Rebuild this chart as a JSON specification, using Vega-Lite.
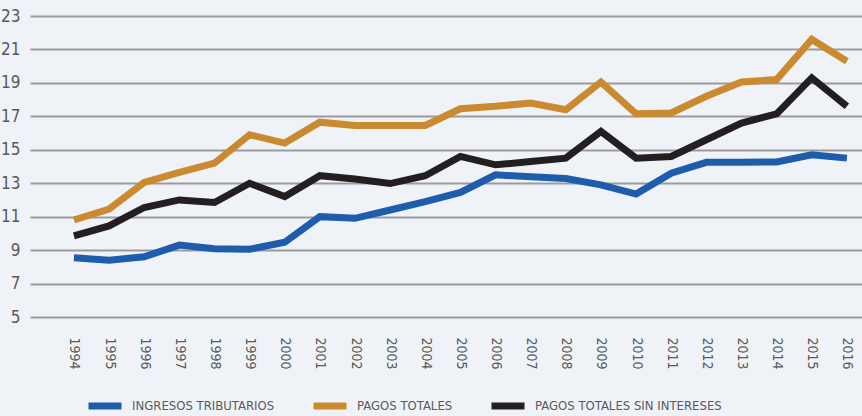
{
  "$schema": "https://vega.github.io/schema/vega-lite/v6.json",
  "width": 832,
  "height": 301,
  "autosize": {"type": "none"},
  "padding": {"left": 30, "top": 16, "right": 0, "bottom": 99},
  "background": "#eff3f8",
  "config": {
    "view": {"stroke": null},
    "font": "DejaVu Sans Condensed, Liberation Sans Narrow, Liberation Sans, sans-serif",
    "axis": {"labelFont": "DejaVu Sans Condensed, Liberation Sans Narrow, Liberation Sans, sans-serif", "labelColor": "#58595b"},
    "legend": {"labelFont": "DejaVu Sans Condensed, Liberation Sans Narrow, Liberation Sans, sans-serif", "labelColor": "#58595b"}
  },
  "datasets": {
    "d": [
      {"year": 1994, "s": "INGRESOS TRIBUTARIOS", "v": 8.55},
      {"year": 1995, "s": "INGRESOS TRIBUTARIOS", "v": 8.4},
      {"year": 1996, "s": "INGRESOS TRIBUTARIOS", "v": 8.6},
      {"year": 1997, "s": "INGRESOS TRIBUTARIOS", "v": 9.3},
      {"year": 1998, "s": "INGRESOS TRIBUTARIOS", "v": 9.08},
      {"year": 1999, "s": "INGRESOS TRIBUTARIOS", "v": 9.05},
      {"year": 2000, "s": "INGRESOS TRIBUTARIOS", "v": 9.47},
      {"year": 2001, "s": "INGRESOS TRIBUTARIOS", "v": 11.0},
      {"year": 2002, "s": "INGRESOS TRIBUTARIOS", "v": 10.9},
      {"year": 2003, "s": "INGRESOS TRIBUTARIOS", "v": 11.4},
      {"year": 2004, "s": "INGRESOS TRIBUTARIOS", "v": 11.9},
      {"year": 2005, "s": "INGRESOS TRIBUTARIOS", "v": 12.45},
      {"year": 2006, "s": "INGRESOS TRIBUTARIOS", "v": 13.5},
      {"year": 2007, "s": "INGRESOS TRIBUTARIOS", "v": 13.38},
      {"year": 2008, "s": "INGRESOS TRIBUTARIOS", "v": 13.28},
      {"year": 2009, "s": "INGRESOS TRIBUTARIOS", "v": 12.9},
      {"year": 2010, "s": "INGRESOS TRIBUTARIOS", "v": 12.35},
      {"year": 2011, "s": "INGRESOS TRIBUTARIOS", "v": 13.6},
      {"year": 2012, "s": "INGRESOS TRIBUTARIOS", "v": 14.25},
      {"year": 2013, "s": "INGRESOS TRIBUTARIOS", "v": 14.25},
      {"year": 2014, "s": "INGRESOS TRIBUTARIOS", "v": 14.27},
      {"year": 2015, "s": "INGRESOS TRIBUTARIOS", "v": 14.7},
      {"year": 2016, "s": "INGRESOS TRIBUTARIOS", "v": 14.5},
      {"year": 1994, "s": "PAGOS TOTALES", "v": 10.8},
      {"year": 1995, "s": "PAGOS TOTALES", "v": 11.45},
      {"year": 1996, "s": "PAGOS TOTALES", "v": 13.05},
      {"year": 1997, "s": "PAGOS TOTALES", "v": 13.65},
      {"year": 1998, "s": "PAGOS TOTALES", "v": 14.2},
      {"year": 1999, "s": "PAGOS TOTALES", "v": 15.9},
      {"year": 2000, "s": "PAGOS TOTALES", "v": 15.4},
      {"year": 2001, "s": "PAGOS TOTALES", "v": 16.65},
      {"year": 2002, "s": "PAGOS TOTALES", "v": 16.45},
      {"year": 2003, "s": "PAGOS TOTALES", "v": 16.45},
      {"year": 2004, "s": "PAGOS TOTALES", "v": 16.45},
      {"year": 2005, "s": "PAGOS TOTALES", "v": 17.45},
      {"year": 2006, "s": "PAGOS TOTALES", "v": 17.6},
      {"year": 2007, "s": "PAGOS TOTALES", "v": 17.8},
      {"year": 2008, "s": "PAGOS TOTALES", "v": 17.4},
      {"year": 2009, "s": "PAGOS TOTALES", "v": 19.05},
      {"year": 2010, "s": "PAGOS TOTALES", "v": 17.15},
      {"year": 2011, "s": "PAGOS TOTALES", "v": 17.2},
      {"year": 2012, "s": "PAGOS TOTALES", "v": 18.2},
      {"year": 2013, "s": "PAGOS TOTALES", "v": 19.05},
      {"year": 2014, "s": "PAGOS TOTALES", "v": 19.2},
      {"year": 2015, "s": "PAGOS TOTALES", "v": 21.6},
      {"year": 2016, "s": "PAGOS TOTALES", "v": 20.3},
      {"year": 1994, "s": "PAGOS TOTALES SIN INTERESES", "v": 9.85},
      {"year": 1995, "s": "PAGOS TOTALES SIN INTERESES", "v": 10.45},
      {"year": 1996, "s": "PAGOS TOTALES SIN INTERESES", "v": 11.55},
      {"year": 1997, "s": "PAGOS TOTALES SIN INTERESES", "v": 12.0},
      {"year": 1998, "s": "PAGOS TOTALES SIN INTERESES", "v": 11.85},
      {"year": 1999, "s": "PAGOS TOTALES SIN INTERESES", "v": 13.0},
      {"year": 2000, "s": "PAGOS TOTALES SIN INTERESES", "v": 12.2},
      {"year": 2001, "s": "PAGOS TOTALES SIN INTERESES", "v": 13.45},
      {"year": 2002, "s": "PAGOS TOTALES SIN INTERESES", "v": 13.25},
      {"year": 2003, "s": "PAGOS TOTALES SIN INTERESES", "v": 12.98},
      {"year": 2004, "s": "PAGOS TOTALES SIN INTERESES", "v": 13.45},
      {"year": 2005, "s": "PAGOS TOTALES SIN INTERESES", "v": 14.6},
      {"year": 2006, "s": "PAGOS TOTALES SIN INTERESES", "v": 14.1},
      {"year": 2007, "s": "PAGOS TOTALES SIN INTERESES", "v": 14.3},
      {"year": 2008, "s": "PAGOS TOTALES SIN INTERESES", "v": 14.5},
      {"year": 2009, "s": "PAGOS TOTALES SIN INTERESES", "v": 16.1},
      {"year": 2010, "s": "PAGOS TOTALES SIN INTERESES", "v": 14.5},
      {"year": 2011, "s": "PAGOS TOTALES SIN INTERESES", "v": 14.6},
      {"year": 2012, "s": "PAGOS TOTALES SIN INTERESES", "v": 15.6},
      {"year": 2013, "s": "PAGOS TOTALES SIN INTERESES", "v": 16.6},
      {"year": 2014, "s": "PAGOS TOTALES SIN INTERESES", "v": 17.15},
      {"year": 2015, "s": "PAGOS TOTALES SIN INTERESES", "v": 19.3},
      {"year": 2016, "s": "PAGOS TOTALES SIN INTERESES", "v": 17.6}
    ]
  },
  "data": {"name": "d"},
  "mark": {"type": "line", "strokeWidth": 7, "strokeJoin": "miter", "strokeCap": "butt"},
  "encoding": {
    "x": {
      "field": "year",
      "type": "quantitative",
      "scale": {"domain": [1992.75, 2016.43], "nice": false, "zero": false},
      "axis": {
        "title": null,
        "values": [1994,1995,1996,1997,1998,1999,2000,2001,2002,2003,2004,2005,2006,2007,2008,2009,2010,2011,2012,2013,2014,2015,2016],
        "format": "d",
        "labelAngle": 90,
        "labelAlign": "left",
        "labelBaseline": "middle",
        "labelPadding": 20,
        "labelFontSize": 14,
        "labelOverlap": false,
        "domain": false,
        "ticks": false,
        "grid": false
      }
    },
    "y": {
      "field": "v",
      "type": "quantitative",
      "scale": {"domain": [5, 23], "nice": false, "zero": false},
      "axis": {
        "title": null,
        "values": [5,7,9,11,13,15,17,19,21,23],
        "labelFontSize": 17,
        "labelPadding": 10,
        "domain": false,
        "ticks": false,
        "grid": true,
        "gridColor": "#9b9b9e",
        "gridWidth": 2.2,
        "gridOpacity": 1
      }
    },
    "color": {
      "field": "s",
      "type": "nominal",
      "sort": ["INGRESOS TRIBUTARIOS", "PAGOS TOTALES", "PAGOS TOTALES SIN INTERESES"],
      "scale": {
        "domain": ["INGRESOS TRIBUTARIOS", "PAGOS TOTALES", "PAGOS TOTALES SIN INTERESES"],
        "range": ["#1d5dab", "#cc8a30", "#231f20"]
      },
      "legend": {
        "title": null,
        "orient": "none",
        "legendX": 55,
        "legendY": 370,
        "direction": "horizontal",
        "columns": 3,
        "columnPadding": 24,
        "symbolType": "stroke",
        "symbolSize": 1089,
        "symbolStrokeWidth": 7,
        "labelFontSize": 13,
        "labelOffset": 7,
        "labelLimit": 300
      }
    }
  }
}
